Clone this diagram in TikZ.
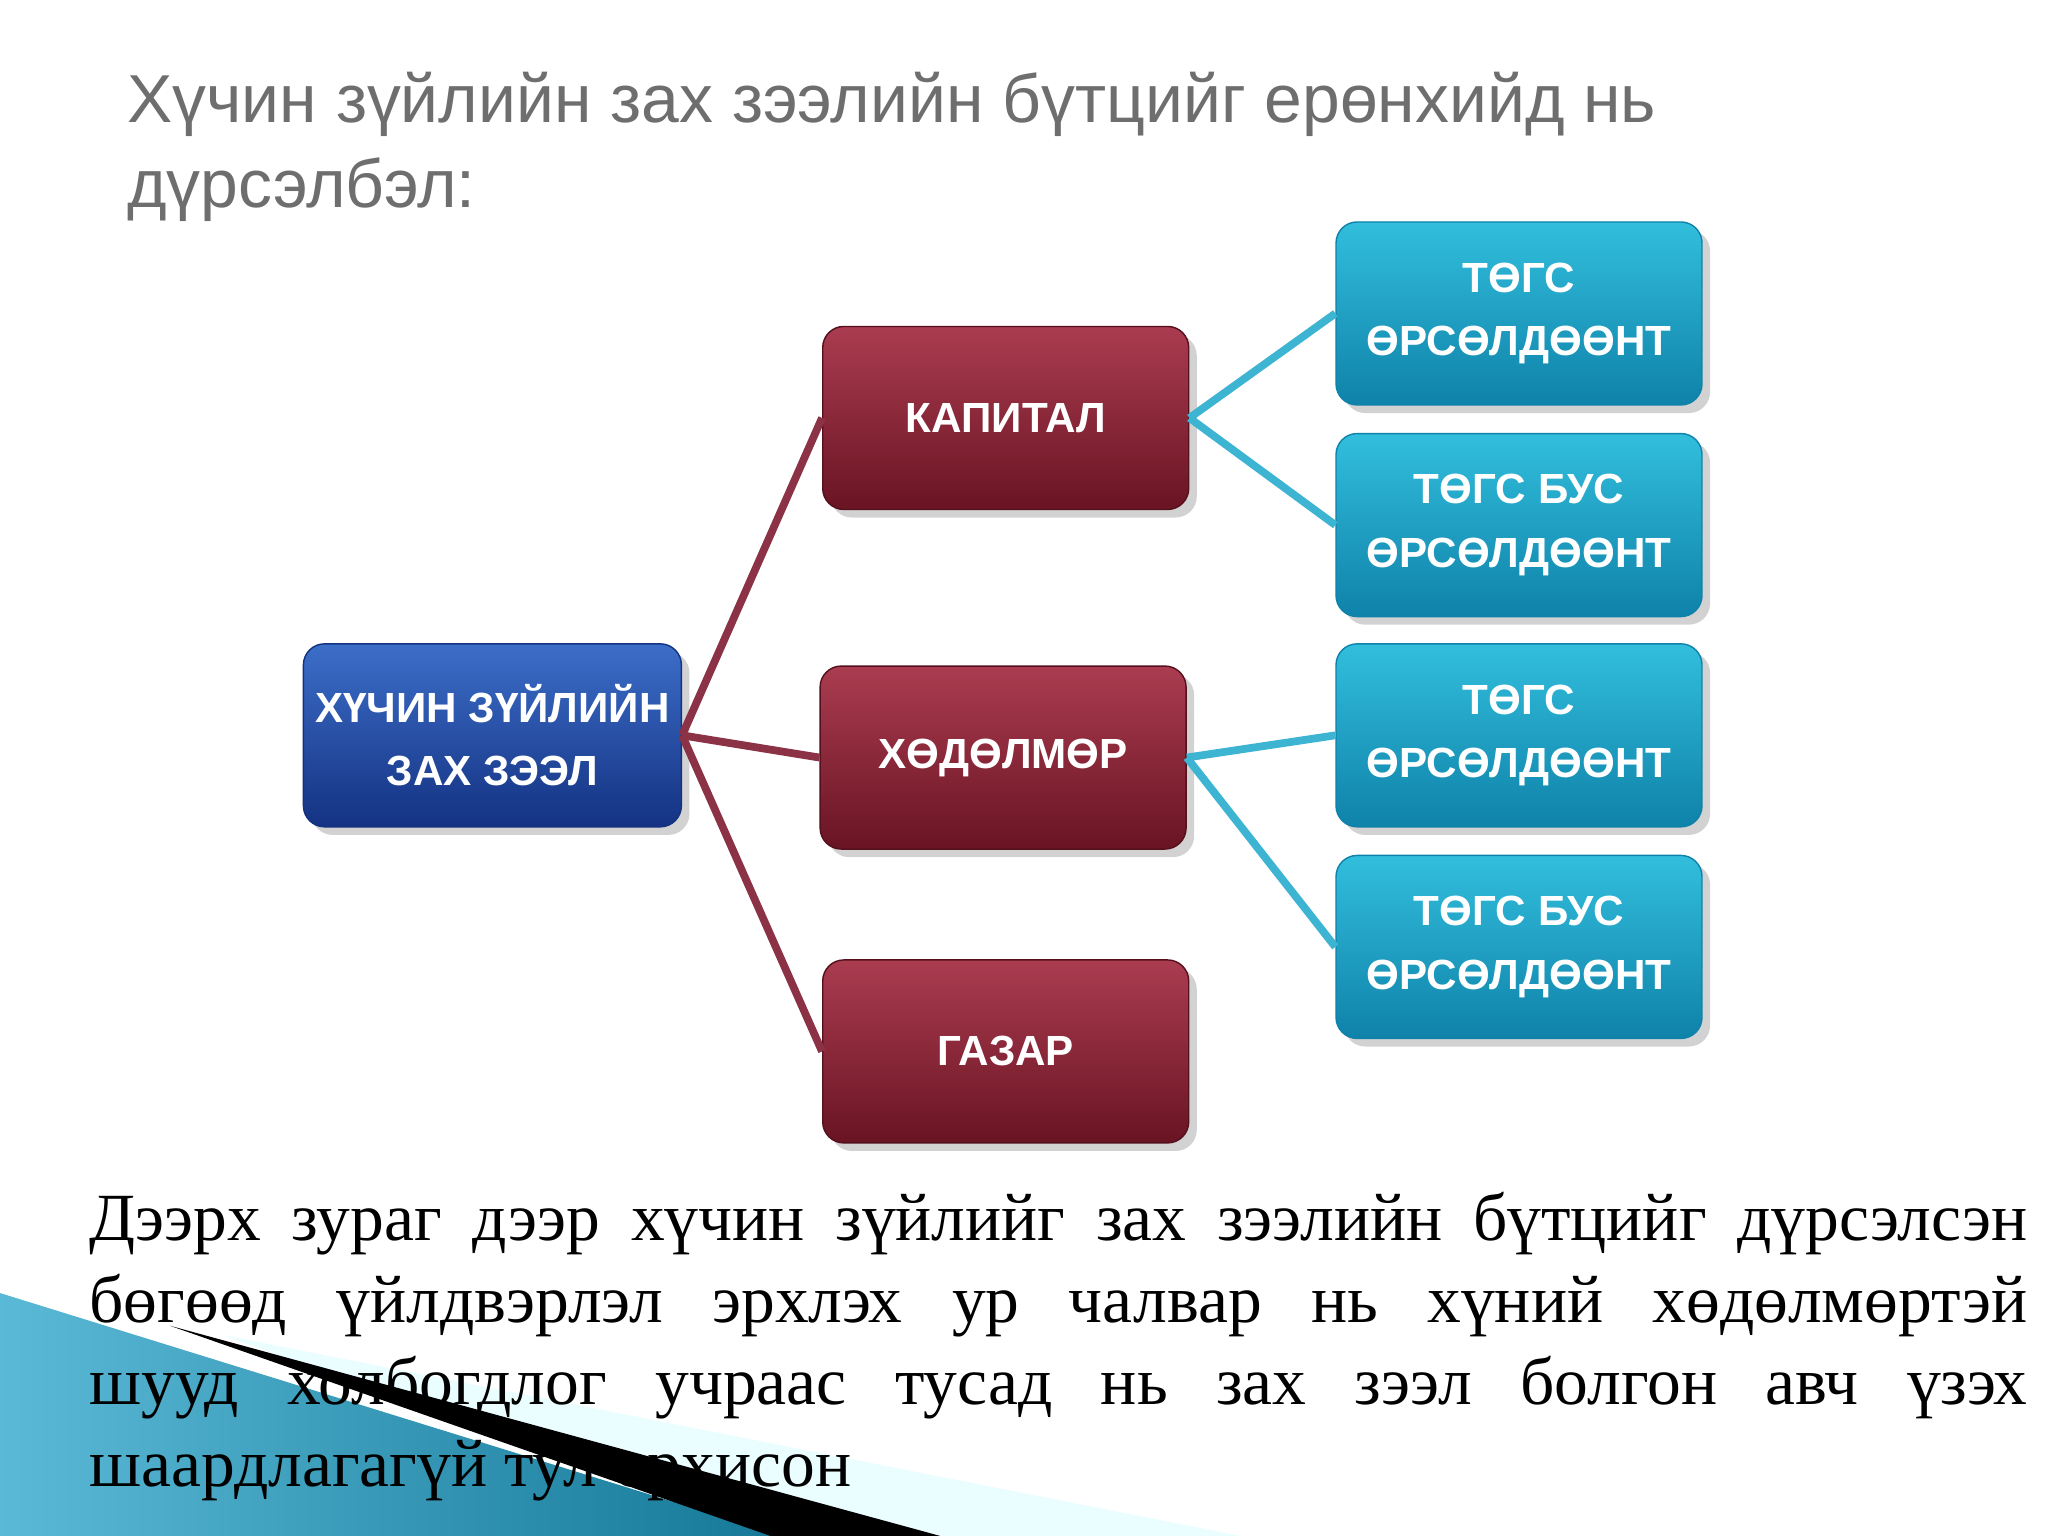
\documentclass[tikz,border=0pt]{standalone}
\usepackage{fontspec}
\setmainfont{Liberation Serif}
\setsansfont{Liberation Sans}
\usetikzlibrary{shadows}
\definecolor{titlegray}{RGB}{110,110,110}
\definecolor{redtop}{RGB}{170,60,80}
\definecolor{redbot}{RGB}{105,20,35}
\definecolor{bluetop}{RGB}{60,110,200}
\definecolor{bluebot}{RGB}{20,50,130}
\definecolor{cyantop}{RGB}{50,190,220}
\definecolor{cyanbot}{RGB}{15,130,170}
\definecolor{redline}{RGB}{140,50,70}
\definecolor{cyanline}{RGB}{60,180,210}
\definecolor{decodark}{RGB}{20,120,150}
\definecolor{decolight}{RGB}{90,185,215}
\tikzset{
 boxbase/.style={rounded corners=6pt, minimum width=3.66cm, minimum height=1.83cm, align=center,
   text=white, font=\sffamily\bfseries\fontsize{12}{18}\selectfont, drop shadow={opacity=0.35}},
 redbox/.style={boxbase, top color=redtop, bottom color=redbot, draw=redbot!80!black},
 bluebox/.style={boxbase, top color=bluetop, bottom color=bluebot, draw=bluebot},
 cyanbox/.style={boxbase, top color=cyantop, bottom color=cyanbot, draw=cyanbot},
 redconn/.style={draw=redline, line width=2.2pt},
 cyanconn/.style={draw=cyanline, line width=2.2pt},
}
\begin{document}
\begin{tikzpicture}[x=0.01306cm, y=-0.01306cm]
\useasboundingbox (0,0) rectangle (1568,1176);
\fill[white] (0,0) rectangle (1568,1176);
% title
\node[anchor=west, text=titlegray, font=\sffamily\fontsize{19.3}{24}\selectfont] (t1) at (88,80) {Хүчин зүйлийн зах зээлийн бүтцийг ерөнхийд нь};
\node[anchor=west, text=titlegray, font=\sffamily\fontsize{19.3}{24}\selectfont] (t2) at (88,145) {дүрсэлбэл:};
% boxes
\node[bluebox] (root) at (377,563) {ХҮЧИН ЗҮЙЛИЙН\\ЗАХ ЗЭЭЛ};
\node[redbox] (kap) at (770,320) {КАПИТАЛ};
\node[redbox] (hod) at (768,580) {ХӨДӨЛМӨР};
\node[redbox] (gaz) at (770,805) {ГАЗАР};
\node[cyanbox] (c1) at (1163,240) {ТӨГС\\ӨРСӨЛДӨӨНТ};
\node[cyanbox] (c2) at (1163,402) {ТӨГС БУС\\ӨРСӨЛДӨӨНТ};
\node[cyanbox] (c3) at (1163,563) {ТӨГС\\ӨРСӨЛДӨӨНТ};
\node[cyanbox] (c4) at (1163,725) {ТӨГС БУС\\ӨРСӨЛДӨӨНТ};
% connectors
\draw[redconn] (root.east) -- (kap.west);
\draw[redconn] (root.east) -- (hod.west);
\draw[redconn] (root.east) -- (gaz.west);
\draw[cyanconn] (kap.east) -- (c1.west);
\draw[cyanconn] (kap.east) -- (c2.west);
\draw[cyanconn] (hod.east) -- (c3.west);
\draw[cyanconn] (hod.east) -- (c4.west);
% decoration
\fill[blue!5!cyan!8] (170,1022) -- (950,1176) -- (600,1176) -- cycle;
\shade[left color=decolight, right color=decodark] (0,990) -- (600,1176) -- (0,1176) -- cycle;
\fill[black] (130,1015) -- (720,1176) -- (590,1176) -- cycle;
% body text
\node[anchor=north west, text width=19.38cm, align=justify, inner sep=0pt,
  font=\fontsize{19.2}{23.4}\selectfont] (body) at (68,912)
 {Дээрх зураг дээр хүчин зүйлийг зах зээлийн бүтцийг дүрсэлсэн бөгөөд үйлдвэрлэл эрхлэх ур чалвар нь хүний хөдөлмөртэй шууд холбогдлог учраас тусад нь зах зээл болгон авч үзэх\linebreak шаардлагагүй тул орхисон};
\end{tikzpicture}
\end{document}
